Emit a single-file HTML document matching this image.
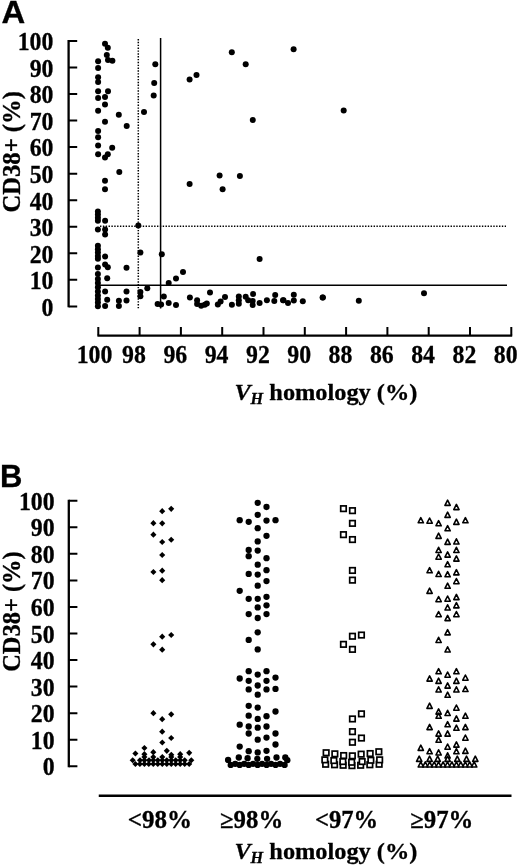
<!DOCTYPE html>
<html><head><meta charset="utf-8"><title>Figure</title>
<style>html,body{margin:0;padding:0;background:#fff}svg{display:block}text{font-family:"Liberation Serif",serif;font-weight:bold;fill:#000;stroke:#000;stroke-width:0.3px}.s{font-family:"Liberation Sans",sans-serif;font-weight:bold}.ax{stroke:#000;fill:none}</style></head><body>
<svg width="520" height="867" viewBox="0 0 520 867">
<rect width="520" height="867" fill="#fff"/>
<text class="s" transform="translate(1.5 23.4) scale(1.06 1)" font-size="31" stroke-width="0.5">A</text>
<path class="ax" stroke-width="2.3" d="M68.6 40.0V307.29999999999995"/>
<path class="ax" stroke-width="2" d="M68.6 40.90H77.19999999999999M68.6 67.45H77.19999999999999M68.6 94.00H77.19999999999999M68.6 120.55H77.19999999999999M68.6 147.10H77.19999999999999M68.6 173.65H77.19999999999999M68.6 200.20H77.19999999999999M68.6 226.75H77.19999999999999M68.6 253.30H77.19999999999999M68.6 279.85H77.19999999999999M68.6 306.40H77.19999999999999"/>
<text transform="translate(53.4 50.2) scale(0.975 1)" font-size="24.4" text-anchor="end">100</text>
<text transform="translate(53.4 76.8) scale(0.975 1)" font-size="24.4" text-anchor="end">90</text>
<text transform="translate(53.4 103.3) scale(0.975 1)" font-size="24.4" text-anchor="end">80</text>
<text transform="translate(53.4 129.9) scale(0.975 1)" font-size="24.4" text-anchor="end">70</text>
<text transform="translate(53.4 156.4) scale(0.975 1)" font-size="24.4" text-anchor="end">60</text>
<text transform="translate(53.4 183.0) scale(0.975 1)" font-size="24.4" text-anchor="end">50</text>
<text transform="translate(53.4 209.5) scale(0.975 1)" font-size="24.4" text-anchor="end">40</text>
<text transform="translate(53.4 236.1) scale(0.975 1)" font-size="24.4" text-anchor="end">30</text>
<text transform="translate(53.4 262.6) scale(0.975 1)" font-size="24.4" text-anchor="end">20</text>
<text transform="translate(53.4 289.2) scale(0.975 1)" font-size="24.4" text-anchor="end">10</text>
<text transform="translate(53.4 315.7) scale(0.975 1)" font-size="24.4" text-anchor="end">0</text>
<text transform="translate(20.3,212.6) rotate(-90) scale(1 1.065)" font-size="24" textLength="121.5" lengthAdjust="spacingAndGlyphs">CD38+ (%)</text>
<path class="ax" stroke-width="2.2" d="M97.39999999999999 335.6H512.2"/>
<path class="ax" stroke-width="2" d="M98.30 335.6V327M139.60 335.6V327M180.90 335.6V327M222.20 335.6V327M263.50 335.6V327M304.80 335.6V327M346.10 335.6V327M387.40 335.6V327M428.70 335.6V327M470.00 335.6V327M511.30 335.6V327"/>
<text transform="translate(94.5 362.6) scale(0.975 1)" font-size="24.4" text-anchor="middle">100</text>
<text transform="translate(134.0 362.6) scale(0.975 1)" font-size="24.4" text-anchor="middle">98</text>
<text transform="translate(175.3 362.6) scale(0.975 1)" font-size="24.4" text-anchor="middle">96</text>
<text transform="translate(216.6 362.6) scale(0.975 1)" font-size="24.4" text-anchor="middle">94</text>
<text transform="translate(257.9 362.6) scale(0.975 1)" font-size="24.4" text-anchor="middle">92</text>
<text transform="translate(299.2 362.6) scale(0.975 1)" font-size="24.4" text-anchor="middle">90</text>
<text transform="translate(340.5 362.6) scale(0.975 1)" font-size="24.4" text-anchor="middle">88</text>
<text transform="translate(381.8 362.6) scale(0.975 1)" font-size="24.4" text-anchor="middle">86</text>
<text transform="translate(423.1 362.6) scale(0.975 1)" font-size="24.4" text-anchor="middle">84</text>
<text transform="translate(464.4 362.6) scale(0.975 1)" font-size="24.4" text-anchor="middle">82</text>
<text transform="translate(505.7 362.6) scale(0.975 1)" font-size="24.4" text-anchor="middle">80</text>
<path class="ax" stroke-width="1.5" d="M160.6 38V308.5"/>
<path class="ax" stroke-width="1.5" d="M98 285.2H507"/>
<path class="ax" stroke-width="1.5" stroke-dasharray="1.4 1.45" d="M138.3 39V309.8"/>
<path class="ax" stroke-width="1.5" stroke-dasharray="1.4 1.45" d="M100 226.3H506"/>
<text x="234.4" y="400.1" font-size="24" textLength="183" lengthAdjust="spacingAndGlyphs"><tspan font-style="italic">V</tspan><tspan font-style="italic" font-size="16" dy="3.5">H</tspan><tspan dy="-3.5"> homology (%)</tspan></text>
<g fill="#000">
<circle cx="105.0" cy="43.8" r="3.0"/>
<circle cx="107.8" cy="47.8" r="3.0"/>
<circle cx="106.8" cy="54.9" r="3.0"/>
<circle cx="108.0" cy="60.0" r="3.0"/>
<circle cx="112.4" cy="60.7" r="3.0"/>
<circle cx="98.1" cy="61.2" r="3.0"/>
<circle cx="98.1" cy="68.1" r="3.0"/>
<circle cx="98.1" cy="77.3" r="3.0"/>
<circle cx="98.1" cy="81.9" r="3.0"/>
<circle cx="98.1" cy="91.2" r="3.0"/>
<circle cx="108.0" cy="91.2" r="3.0"/>
<circle cx="105.0" cy="96.9" r="3.0"/>
<circle cx="98.1" cy="98.1" r="3.0"/>
<circle cx="105.0" cy="104.5" r="3.0"/>
<circle cx="98.1" cy="110.8" r="3.0"/>
<circle cx="118.8" cy="114.7" r="3.0"/>
<circle cx="105.0" cy="121.8" r="3.0"/>
<circle cx="126.7" cy="126.0" r="3.0"/>
<circle cx="98.1" cy="131.1" r="3.0"/>
<circle cx="98.1" cy="137.3" r="3.0"/>
<circle cx="98.1" cy="145.4" r="3.0"/>
<circle cx="112.2" cy="147.7" r="3.0"/>
<circle cx="98.1" cy="154.2" r="3.0"/>
<circle cx="107.8" cy="154.2" r="3.0"/>
<circle cx="105.0" cy="157.6" r="3.0"/>
<circle cx="119.3" cy="171.9" r="3.0"/>
<circle cx="105.0" cy="180.7" r="3.0"/>
<circle cx="105.0" cy="189.2" r="3.0"/>
<circle cx="155.3" cy="64.2" r="3.0"/>
<circle cx="154.2" cy="83.1" r="3.0"/>
<circle cx="153.7" cy="95.5" r="3.0"/>
<circle cx="144.0" cy="111.9" r="3.0"/>
<circle cx="97.9" cy="211.4" r="3.0"/>
<circle cx="97.9" cy="214.5" r="3.0"/>
<circle cx="97.9" cy="217.7" r="3.0"/>
<circle cx="97.9" cy="220.8" r="3.0"/>
<circle cx="97.9" cy="229.5" r="3.0"/>
<circle cx="97.9" cy="245.7" r="3.0"/>
<circle cx="97.9" cy="249.2" r="3.0"/>
<circle cx="97.9" cy="252.6" r="3.0"/>
<circle cx="97.9" cy="256.1" r="3.0"/>
<circle cx="97.9" cy="258.8" r="3.0"/>
<circle cx="97.9" cy="267.4" r="3.0"/>
<circle cx="97.9" cy="274.1" r="3.0"/>
<circle cx="97.9" cy="278.9" r="3.0"/>
<circle cx="97.9" cy="283.1" r="3.0"/>
<circle cx="97.9" cy="287.2" r="3.0"/>
<circle cx="97.9" cy="291.4" r="3.0"/>
<circle cx="97.9" cy="295.5" r="3.0"/>
<circle cx="97.9" cy="299.0" r="3.0"/>
<circle cx="97.9" cy="302.5" r="3.0"/>
<circle cx="97.9" cy="306.3" r="3.0"/>
<circle cx="105.1" cy="220.8" r="3.0"/>
<circle cx="105.1" cy="229.5" r="3.0"/>
<circle cx="105.1" cy="234.6" r="3.0"/>
<circle cx="105.1" cy="256.5" r="3.0"/>
<circle cx="105.1" cy="264.4" r="3.0"/>
<circle cx="107.8" cy="267.2" r="3.0"/>
<circle cx="105.1" cy="291.4" r="3.0"/>
<circle cx="105.1" cy="305.9" r="3.0"/>
<circle cx="107.2" cy="278.2" r="3.0"/>
<circle cx="107.2" cy="299.7" r="3.0"/>
<circle cx="126.5" cy="267.8" r="3.0"/>
<circle cx="126.5" cy="291.4" r="3.0"/>
<circle cx="126.5" cy="300.4" r="3.0"/>
<circle cx="118.9" cy="300.8" r="3.0"/>
<circle cx="118.9" cy="305.9" r="3.0"/>
<circle cx="138.3" cy="225.6" r="3.0"/>
<circle cx="140.4" cy="252.6" r="3.0"/>
<circle cx="140.4" cy="292.1" r="3.0"/>
<circle cx="140.4" cy="296.2" r="3.0"/>
<circle cx="147.3" cy="288.3" r="3.0"/>
<circle cx="231.8" cy="52.2" r="3.0"/>
<circle cx="245.7" cy="64.2" r="3.0"/>
<circle cx="196.5" cy="75.0" r="3.0"/>
<circle cx="189.6" cy="79.6" r="3.0"/>
<circle cx="252.8" cy="120.0" r="3.0"/>
<circle cx="219.6" cy="175.4" r="3.0"/>
<circle cx="239.9" cy="176.1" r="3.0"/>
<circle cx="189.6" cy="183.9" r="3.0"/>
<circle cx="222.6" cy="189.2" r="3.0"/>
<circle cx="293.6" cy="49.2" r="3.0"/>
<circle cx="343.7" cy="110.5" r="3.0"/>
<circle cx="161.8" cy="254.3" r="3.0"/>
<circle cx="183.0" cy="272.1" r="3.0"/>
<circle cx="176.0" cy="278.5" r="3.0"/>
<circle cx="168.7" cy="282.9" r="3.0"/>
<circle cx="210.0" cy="292.6" r="3.0"/>
<circle cx="163.8" cy="296.5" r="3.0"/>
<circle cx="189.9" cy="297.5" r="3.0"/>
<circle cx="197.1" cy="300.2" r="3.0"/>
<circle cx="157.6" cy="304.0" r="3.0"/>
<circle cx="161.1" cy="304.4" r="3.0"/>
<circle cx="168.7" cy="303.0" r="3.0"/>
<circle cx="176.0" cy="305.1" r="3.0"/>
<circle cx="197.1" cy="304.0" r="3.0"/>
<circle cx="201.2" cy="305.8" r="3.0"/>
<circle cx="206.8" cy="303.4" r="3.0"/>
<circle cx="204.7" cy="304.8" r="3.0"/>
<circle cx="217.8" cy="304.4" r="3.0"/>
<circle cx="220.6" cy="301.6" r="3.0"/>
<circle cx="259.6" cy="259.1" r="3.0"/>
<circle cx="225.0" cy="297.0" r="3.0"/>
<circle cx="231.9" cy="304.8" r="3.0"/>
<circle cx="238.8" cy="296.5" r="3.0"/>
<circle cx="238.8" cy="300.2" r="3.0"/>
<circle cx="238.8" cy="303.7" r="3.0"/>
<circle cx="245.7" cy="296.8" r="3.0"/>
<circle cx="248.2" cy="300.2" r="3.0"/>
<circle cx="253.1" cy="294.0" r="3.0"/>
<circle cx="252.7" cy="300.9" r="3.0"/>
<circle cx="252.7" cy="305.1" r="3.0"/>
<circle cx="259.6" cy="303.0" r="3.0"/>
<circle cx="266.9" cy="300.2" r="3.0"/>
<circle cx="275.2" cy="295.1" r="3.0"/>
<circle cx="274.3" cy="300.9" r="3.0"/>
<circle cx="283.5" cy="300.2" r="3.0"/>
<circle cx="283.0" cy="300.2" r="3.0"/>
<circle cx="288.0" cy="303.0" r="3.0"/>
<circle cx="293.8" cy="294.7" r="3.0"/>
<circle cx="293.8" cy="300.6" r="3.0"/>
<circle cx="302.8" cy="301.3" r="3.0"/>
<circle cx="322.9" cy="297.5" r="3.0"/>
<circle cx="322.6" cy="297.4" r="3.0"/>
<circle cx="358.8" cy="300.8" r="3.0"/>
<circle cx="424.0" cy="293.2" r="3.0"/>
</g>
<text class="s" transform="translate(-0.1 486.8) scale(0.99 1)" font-size="31.3" stroke-width="0.5">B</text>
<path class="ax" stroke-width="2.3" d="M68.8 499.85V767.15"/>
<path class="ax" stroke-width="2" d="M68.8 500.75H77.39999999999999M68.8 527.30H77.39999999999999M68.8 553.85H77.39999999999999M68.8 580.40H77.39999999999999M68.8 606.95H77.39999999999999M68.8 633.50H77.39999999999999M68.8 660.05H77.39999999999999M68.8 686.60H77.39999999999999M68.8 713.15H77.39999999999999M68.8 739.70H77.39999999999999M68.8 766.25H77.39999999999999"/>
<text transform="translate(54.6 509.8) scale(0.975 1)" font-size="24.4" text-anchor="end">100</text>
<text transform="translate(54.6 536.3) scale(0.975 1)" font-size="24.4" text-anchor="end">90</text>
<text transform="translate(54.6 562.9) scale(0.975 1)" font-size="24.4" text-anchor="end">80</text>
<text transform="translate(54.6 589.4) scale(0.975 1)" font-size="24.4" text-anchor="end">70</text>
<text transform="translate(54.6 616.0) scale(0.975 1)" font-size="24.4" text-anchor="end">60</text>
<text transform="translate(54.6 642.5) scale(0.975 1)" font-size="24.4" text-anchor="end">50</text>
<text transform="translate(54.6 669.0) scale(0.975 1)" font-size="24.4" text-anchor="end">40</text>
<text transform="translate(54.6 695.6) scale(0.975 1)" font-size="24.4" text-anchor="end">30</text>
<text transform="translate(54.6 722.1) scale(0.975 1)" font-size="24.4" text-anchor="end">20</text>
<text transform="translate(54.6 748.7) scale(0.975 1)" font-size="24.4" text-anchor="end">10</text>
<text transform="translate(54.6 775.2) scale(0.975 1)" font-size="24.4" text-anchor="end">0</text>
<text transform="translate(20.3,671.8) rotate(-90) scale(1 1.065)" font-size="24" textLength="120.5" lengthAdjust="spacingAndGlyphs">CD38+ (%)</text>
<path class="ax" stroke-width="2.4" d="M98.75 795.8H511.5"/>
<text x="127.7" y="828.2" font-size="24.5" textLength="64.3" lengthAdjust="spacingAndGlyphs">&lt;98%</text>
<text x="220.0" y="828.2" font-size="24.5" textLength="63.2" lengthAdjust="spacingAndGlyphs">≥98%</text>
<text x="315.0" y="828.2" font-size="24.5" textLength="63.2" lengthAdjust="spacingAndGlyphs">&lt;97%</text>
<text x="410.2" y="828.2" font-size="24.5" textLength="63.2" lengthAdjust="spacingAndGlyphs">≥97%</text>
<text x="234.4" y="859.3" font-size="24" textLength="183" lengthAdjust="spacingAndGlyphs"><tspan font-style="italic">V</tspan><tspan font-style="italic" font-size="16" dy="3.5">H</tspan><tspan dy="-3.5"> homology (%)</tspan></text>
<g fill="#000">
<path d="M171.2 505.8l3.05 3.05l-3.05 3.05l-3.05 -3.05z"/>
<path d="M162.2 508.1l3.05 3.05l-3.05 3.05l-3.05 -3.05z"/>
<path d="M153.4 520.1l3.05 3.05l-3.05 3.05l-3.05 -3.05z"/>
<path d="M162.2 520.3l3.05 3.05l-3.05 3.05l-3.05 -3.05z"/>
<path d="M153.4 531.6l3.05 3.05l-3.05 3.05l-3.05 -3.05z"/>
<path d="M171.2 536.7l3.05 3.05l-3.05 3.05l-3.05 -3.05z"/>
<path d="M162.2 539.0l3.05 3.05l-3.05 3.05l-3.05 -3.05z"/>
<path d="M162.2 552.0l3.05 3.05l-3.05 3.05l-3.05 -3.05z"/>
<path d="M153.4 569.0l3.05 3.05l-3.05 3.05l-3.05 -3.05z"/>
<path d="M162.2 567.6l3.05 3.05l-3.05 3.05l-3.05 -3.05z"/>
<path d="M162.2 577.1l3.05 3.05l-3.05 3.05l-3.05 -3.05z"/>
<path d="M171.2 632.0l3.05 3.05l-3.05 3.05l-3.05 -3.05z"/>
<path d="M162.2 633.6l3.05 3.05l-3.05 3.05l-3.05 -3.05z"/>
<path d="M153.4 641.3l3.05 3.05l-3.05 3.05l-3.05 -3.05z"/>
<path d="M162.2 646.6l3.05 3.05l-3.05 3.05l-3.05 -3.05z"/>
<path d="M153.4 710.1l3.05 3.05l-3.05 3.05l-3.05 -3.05z"/>
<path d="M171.2 711.3l3.05 3.05l-3.05 3.05l-3.05 -3.05z"/>
<path d="M162.2 716.1l3.05 3.05l-3.05 3.05l-3.05 -3.05z"/>
<path d="M162.2 728.6l3.05 3.05l-3.05 3.05l-3.05 -3.05z"/>
<path d="M171.2 735.0l3.05 3.05l-3.05 3.05l-3.05 -3.05z"/>
<path d="M135.4 761.0l3.05 3.05l-3.05 3.05l-3.05 -3.05z"/>
<path d="M139.9 761.0l3.05 3.05l-3.05 3.05l-3.05 -3.05z"/>
<path d="M144.4 761.0l3.05 3.05l-3.05 3.05l-3.05 -3.05z"/>
<path d="M148.8 761.0l3.05 3.05l-3.05 3.05l-3.05 -3.05z"/>
<path d="M153.3 761.0l3.05 3.05l-3.05 3.05l-3.05 -3.05z"/>
<path d="M157.8 761.0l3.05 3.05l-3.05 3.05l-3.05 -3.05z"/>
<path d="M162.3 761.0l3.05 3.05l-3.05 3.05l-3.05 -3.05z"/>
<path d="M166.8 761.0l3.05 3.05l-3.05 3.05l-3.05 -3.05z"/>
<path d="M171.3 761.0l3.05 3.05l-3.05 3.05l-3.05 -3.05z"/>
<path d="M175.7 761.0l3.05 3.05l-3.05 3.05l-3.05 -3.05z"/>
<path d="M180.2 761.0l3.05 3.05l-3.05 3.05l-3.05 -3.05z"/>
<path d="M184.7 761.0l3.05 3.05l-3.05 3.05l-3.05 -3.05z"/>
<path d="M189.2 761.0l3.05 3.05l-3.05 3.05l-3.05 -3.05z"/>
<path d="M132.7 757.2l3.05 3.05l-3.05 3.05l-3.05 -3.05z"/>
<path d="M140.0 757.2l3.05 3.05l-3.05 3.05l-3.05 -3.05z"/>
<path d="M144.4 757.2l3.05 3.05l-3.05 3.05l-3.05 -3.05z"/>
<path d="M149.0 757.2l3.05 3.05l-3.05 3.05l-3.05 -3.05z"/>
<path d="M153.3 757.2l3.05 3.05l-3.05 3.05l-3.05 -3.05z"/>
<path d="M157.8 757.2l3.05 3.05l-3.05 3.05l-3.05 -3.05z"/>
<path d="M162.3 757.2l3.05 3.05l-3.05 3.05l-3.05 -3.05z"/>
<path d="M166.8 757.2l3.05 3.05l-3.05 3.05l-3.05 -3.05z"/>
<path d="M171.3 757.2l3.05 3.05l-3.05 3.05l-3.05 -3.05z"/>
<path d="M175.7 757.2l3.05 3.05l-3.05 3.05l-3.05 -3.05z"/>
<path d="M180.2 757.2l3.05 3.05l-3.05 3.05l-3.05 -3.05z"/>
<path d="M184.7 757.2l3.05 3.05l-3.05 3.05l-3.05 -3.05z"/>
<path d="M191.3 757.2l3.05 3.05l-3.05 3.05l-3.05 -3.05z"/>
<path d="M144.4 754.0l3.05 3.05l-3.05 3.05l-3.05 -3.05z"/>
<path d="M153.3 754.0l3.05 3.05l-3.05 3.05l-3.05 -3.05z"/>
<path d="M162.3 754.0l3.05 3.05l-3.05 3.05l-3.05 -3.05z"/>
<path d="M171.3 754.0l3.05 3.05l-3.05 3.05l-3.05 -3.05z"/>
<path d="M180.2 754.0l3.05 3.05l-3.05 3.05l-3.05 -3.05z"/>
<path d="M135.4 750.5l3.05 3.05l-3.05 3.05l-3.05 -3.05z"/>
<path d="M144.4 751.1l3.05 3.05l-3.05 3.05l-3.05 -3.05z"/>
<path d="M153.3 749.1l3.05 3.05l-3.05 3.05l-3.05 -3.05z"/>
<path d="M171.3 751.8l3.05 3.05l-3.05 3.05l-3.05 -3.05z"/>
<path d="M180.2 751.1l3.05 3.05l-3.05 3.05l-3.05 -3.05z"/>
<path d="M189.2 749.8l3.05 3.05l-3.05 3.05l-3.05 -3.05z"/>
<path d="M166.8 747.8l3.05 3.05l-3.05 3.05l-3.05 -3.05z"/>
<path d="M144.4 744.9l3.05 3.05l-3.05 3.05l-3.05 -3.05z"/>
<path d="M162.3 739.4l3.05 3.05l-3.05 3.05l-3.05 -3.05z"/>
<circle cx="257.7" cy="502.8" r="3.15"/>
<circle cx="266.5" cy="507.0" r="3.15"/>
<circle cx="257.7" cy="514.8" r="3.15"/>
<circle cx="239.7" cy="520.2" r="3.15"/>
<circle cx="248.7" cy="521.8" r="3.15"/>
<circle cx="266.5" cy="520.6" r="3.15"/>
<circle cx="275.5" cy="520.2" r="3.15"/>
<circle cx="257.7" cy="528.2" r="3.15"/>
<circle cx="266.5" cy="535.8" r="3.15"/>
<circle cx="257.7" cy="541.4" r="3.15"/>
<circle cx="248.7" cy="549.9" r="3.15"/>
<circle cx="257.7" cy="550.6" r="3.15"/>
<circle cx="248.7" cy="556.2" r="3.15"/>
<circle cx="266.5" cy="558.2" r="3.15"/>
<circle cx="257.7" cy="564.7" r="3.15"/>
<circle cx="266.5" cy="570.2" r="3.15"/>
<circle cx="248.7" cy="573.9" r="3.15"/>
<circle cx="257.7" cy="574.6" r="3.15"/>
<circle cx="266.5" cy="581.1" r="3.15"/>
<circle cx="257.7" cy="585.7" r="3.15"/>
<circle cx="239.7" cy="590.8" r="3.15"/>
<circle cx="248.7" cy="598.8" r="3.15"/>
<circle cx="257.7" cy="598.8" r="3.15"/>
<circle cx="266.5" cy="596.8" r="3.15"/>
<circle cx="266.5" cy="605.3" r="3.15"/>
<circle cx="257.7" cy="607.4" r="3.15"/>
<circle cx="248.7" cy="614.1" r="3.15"/>
<circle cx="266.5" cy="614.1" r="3.15"/>
<circle cx="257.7" cy="618.0" r="3.15"/>
<circle cx="257.7" cy="632.3" r="3.15"/>
<circle cx="248.7" cy="639.9" r="3.15"/>
<circle cx="257.7" cy="649.4" r="3.15"/>
<circle cx="248.7" cy="671.2" r="3.15"/>
<circle cx="266.5" cy="671.2" r="3.15"/>
<circle cx="257.7" cy="674.6" r="3.15"/>
<circle cx="239.7" cy="678.5" r="3.15"/>
<circle cx="275.5" cy="677.6" r="3.15"/>
<circle cx="248.7" cy="680.8" r="3.15"/>
<circle cx="266.5" cy="680.8" r="3.15"/>
<circle cx="257.7" cy="685.5" r="3.15"/>
<circle cx="248.7" cy="689.4" r="3.15"/>
<circle cx="266.5" cy="689.4" r="3.15"/>
<circle cx="275.5" cy="688.9" r="3.15"/>
<circle cx="257.7" cy="694.7" r="3.15"/>
<circle cx="248.7" cy="705.8" r="3.15"/>
<circle cx="257.7" cy="707.6" r="3.15"/>
<circle cx="275.5" cy="711.5" r="3.15"/>
<circle cx="248.7" cy="715.7" r="3.15"/>
<circle cx="266.5" cy="716.2" r="3.15"/>
<circle cx="257.7" cy="718.9" r="3.15"/>
<circle cx="239.7" cy="724.7" r="3.15"/>
<circle cx="248.7" cy="726.5" r="3.15"/>
<circle cx="257.7" cy="727.7" r="3.15"/>
<circle cx="266.5" cy="726.5" r="3.15"/>
<circle cx="248.7" cy="733.5" r="3.15"/>
<circle cx="275.5" cy="733.5" r="3.15"/>
<circle cx="266.5" cy="737.6" r="3.15"/>
<circle cx="257.7" cy="739.7" r="3.15"/>
<circle cx="275.5" cy="744.5" r="3.15"/>
<circle cx="239.7" cy="746.6" r="3.15"/>
<circle cx="248.7" cy="751.2" r="3.15"/>
<circle cx="266.5" cy="750.8" r="3.15"/>
<circle cx="257.7" cy="752.4" r="3.15"/>
<circle cx="230.7" cy="764.9" r="3.15"/>
<circle cx="235.2" cy="763.8" r="3.15"/>
<circle cx="239.7" cy="764.9" r="3.15"/>
<circle cx="244.2" cy="763.8" r="3.15"/>
<circle cx="248.7" cy="764.9" r="3.15"/>
<circle cx="253.1" cy="763.8" r="3.15"/>
<circle cx="257.6" cy="764.9" r="3.15"/>
<circle cx="262.1" cy="763.8" r="3.15"/>
<circle cx="266.6" cy="764.9" r="3.15"/>
<circle cx="271.1" cy="763.8" r="3.15"/>
<circle cx="275.6" cy="764.9" r="3.15"/>
<circle cx="280.1" cy="763.8" r="3.15"/>
<circle cx="284.6" cy="764.9" r="3.15"/>
<circle cx="228.1" cy="759.9" r="3.15"/>
<circle cx="238.8" cy="757.5" r="3.15"/>
<circle cx="247.6" cy="758.2" r="3.15"/>
<circle cx="257.3" cy="758.8" r="3.15"/>
<circle cx="267.1" cy="758.8" r="3.15"/>
<circle cx="276.5" cy="757.5" r="3.15"/>
<circle cx="285.3" cy="757.5" r="3.15"/>
<circle cx="287.3" cy="760.2" r="3.15"/>
</g><g fill="#fff" stroke="#000" stroke-width="1.7">
<rect x="349.2" y="762.9" width="5.5" height="5.5"/>
<rect x="340.4" y="762.5" width="5.5" height="5.5"/>
<rect x="357.9" y="762.5" width="5.5" height="5.5"/>
<rect x="331.8" y="762.0" width="5.5" height="5.5"/>
<rect x="367.1" y="762.0" width="5.5" height="5.5"/>
<rect x="322.9" y="761.5" width="5.5" height="5.5"/>
<rect x="376.4" y="761.5" width="5.5" height="5.5"/>
<rect x="348.9" y="759.5" width="5.5" height="5.5"/>
<rect x="340.1" y="758.8" width="5.5" height="5.5"/>
<rect x="359.4" y="758.8" width="5.5" height="5.5"/>
<rect x="331.1" y="757.8" width="5.5" height="5.5"/>
<rect x="368.1" y="757.5" width="5.5" height="5.5"/>
<rect x="322.1" y="757.1" width="5.5" height="5.5"/>
<rect x="376.9" y="757.1" width="5.5" height="5.5"/>
<rect x="349.6" y="753.1" width="5.5" height="5.5"/>
<rect x="340.9" y="752.8" width="5.5" height="5.5"/>
<rect x="358.4" y="751.4" width="5.5" height="5.5"/>
<rect x="332.1" y="751.1" width="5.5" height="5.5"/>
<rect x="367.4" y="750.8" width="5.5" height="5.5"/>
<rect x="323.4" y="750.0" width="5.5" height="5.5"/>
<rect x="376.1" y="749.0" width="5.5" height="5.5"/>
<rect x="349.7" y="739.5" width="5.5" height="5.5"/>
<rect x="358.7" y="735.3" width="5.5" height="5.5"/>
<rect x="349.7" y="728.9" width="5.5" height="5.5"/>
<rect x="349.7" y="716.2" width="5.5" height="5.5"/>
<rect x="358.7" y="711.1" width="5.5" height="5.5"/>
<rect x="349.7" y="646.6" width="5.5" height="5.5"/>
<rect x="340.7" y="641.6" width="5.5" height="5.5"/>
<rect x="349.7" y="633.5" width="5.5" height="5.5"/>
<rect x="358.7" y="632.3" width="5.5" height="5.5"/>
<rect x="349.7" y="577.4" width="5.5" height="5.5"/>
<rect x="349.7" y="567.7" width="5.5" height="5.5"/>
<rect x="349.7" y="536.8" width="5.5" height="5.5"/>
<rect x="340.7" y="531.9" width="5.5" height="5.5"/>
<rect x="349.7" y="520.6" width="5.5" height="5.5"/>
<rect x="349.7" y="507.9" width="5.5" height="5.5"/>
<rect x="340.7" y="505.9" width="5.5" height="5.5"/>
</g><g fill="#fff" stroke="#000" stroke-width="1.6" stroke-linejoin="round">
<path d="M447.6 500.2l2.65 5.2h-5.3z"/>
<path d="M456.4 504.4l2.65 5.2h-5.3z"/>
<path d="M447.6 512.2l2.65 5.2h-5.3z"/>
<path d="M420.8 517.6l2.65 5.2h-5.3z"/>
<path d="M429.6 518.0l2.65 5.2h-5.3z"/>
<path d="M438.6 520.6l2.65 5.2h-5.3z"/>
<path d="M456.4 519.2l2.65 5.2h-5.3z"/>
<path d="M465.4 517.6l2.65 5.2h-5.3z"/>
<path d="M447.6 525.6l2.65 5.2h-5.3z"/>
<path d="M438.6 533.2l2.65 5.2h-5.3z"/>
<path d="M447.6 539.2l2.65 5.2h-5.3z"/>
<path d="M456.4 538.8l2.65 5.2h-5.3z"/>
<path d="M438.6 547.3l2.65 5.2h-5.3z"/>
<path d="M456.4 547.3l2.65 5.2h-5.3z"/>
<path d="M447.6 551.9l2.65 5.2h-5.3z"/>
<path d="M438.6 554.0l2.65 5.2h-5.3z"/>
<path d="M456.4 555.9l2.65 5.2h-5.3z"/>
<path d="M447.6 561.6l2.65 5.2h-5.3z"/>
<path d="M429.6 567.6l2.65 5.2h-5.3z"/>
<path d="M438.6 571.3l2.65 5.2h-5.3z"/>
<path d="M447.6 571.6l2.65 5.2h-5.3z"/>
<path d="M456.4 569.7l2.65 5.2h-5.3z"/>
<path d="M456.4 578.5l2.65 5.2h-5.3z"/>
<path d="M447.6 583.1l2.65 5.2h-5.3z"/>
<path d="M429.6 588.2l2.65 5.2h-5.3z"/>
<path d="M438.6 596.5l2.65 5.2h-5.3z"/>
<path d="M447.6 596.0l2.65 5.2h-5.3z"/>
<path d="M456.4 594.4l2.65 5.2h-5.3z"/>
<path d="M456.4 602.7l2.65 5.2h-5.3z"/>
<path d="M447.6 604.8l2.65 5.2h-5.3z"/>
<path d="M438.6 611.5l2.65 5.2h-5.3z"/>
<path d="M456.4 611.5l2.65 5.2h-5.3z"/>
<path d="M447.6 615.4l2.65 5.2h-5.3z"/>
<path d="M447.6 629.7l2.65 5.2h-5.3z"/>
<path d="M438.6 637.3l2.65 5.2h-5.3z"/>
<path d="M447.6 646.8l2.65 5.2h-5.3z"/>
<path d="M438.6 668.6l2.65 5.2h-5.3z"/>
<path d="M456.4 668.6l2.65 5.2h-5.3z"/>
<path d="M447.6 672.0l2.65 5.2h-5.3z"/>
<path d="M429.6 675.9l2.65 5.2h-5.3z"/>
<path d="M465.4 675.0l2.65 5.2h-5.3z"/>
<path d="M438.6 678.2l2.65 5.2h-5.3z"/>
<path d="M456.4 678.2l2.65 5.2h-5.3z"/>
<path d="M447.6 682.9l2.65 5.2h-5.3z"/>
<path d="M438.6 686.8l2.65 5.2h-5.3z"/>
<path d="M456.4 686.8l2.65 5.2h-5.3z"/>
<path d="M465.4 686.3l2.65 5.2h-5.3z"/>
<path d="M447.6 692.1l2.65 5.2h-5.3z"/>
<path d="M429.6 703.2l2.65 5.2h-5.3z"/>
<path d="M456.4 705.0l2.65 5.2h-5.3z"/>
<path d="M438.6 708.9l2.65 5.2h-5.3z"/>
<path d="M447.6 710.3l2.65 5.2h-5.3z"/>
<path d="M438.6 713.1l2.65 5.2h-5.3z"/>
<path d="M465.4 713.1l2.65 5.2h-5.3z"/>
<path d="M456.4 715.9l2.65 5.2h-5.3z"/>
<path d="M447.6 721.6l2.65 5.2h-5.3z"/>
<path d="M429.6 724.4l2.65 5.2h-5.3z"/>
<path d="M456.4 725.1l2.65 5.2h-5.3z"/>
<path d="M465.4 724.4l2.65 5.2h-5.3z"/>
<path d="M438.6 730.9l2.65 5.2h-5.3z"/>
<path d="M447.6 730.9l2.65 5.2h-5.3z"/>
<path d="M465.4 735.0l2.65 5.2h-5.3z"/>
<path d="M438.6 737.1l2.65 5.2h-5.3z"/>
<path d="M456.4 741.9l2.65 5.2h-5.3z"/>
<path d="M447.6 744.0l2.65 5.2h-5.3z"/>
<path d="M420.8 745.2l2.65 5.2h-5.3z"/>
<path d="M429.6 748.6l2.65 5.2h-5.3z"/>
<path d="M438.6 749.8l2.65 5.2h-5.3z"/>
<path d="M456.4 748.6l2.65 5.2h-5.3z"/>
<path d="M465.4 748.2l2.65 5.2h-5.3z"/>
<path d="M447.6 752.8l2.65 5.2h-5.3z"/>
<path d="M419.2 756.2l2.65 5.2h-5.3z"/>
<path d="M429.6 756.2l2.65 5.2h-5.3z"/>
<path d="M437.7 756.2l2.65 5.2h-5.3z"/>
<path d="M447.6 756.2l2.65 5.2h-5.3z"/>
<path d="M457.3 756.2l2.65 5.2h-5.3z"/>
<path d="M466.5 756.2l2.65 5.2h-5.3z"/>
<path d="M475.3 756.2l2.65 5.2h-5.3z"/>
<path d="M420.8 761.8l2.65 5.2h-5.3z"/>
<path d="M425.3 761.8l2.65 5.2h-5.3z"/>
<path d="M429.7 761.8l2.65 5.2h-5.3z"/>
<path d="M434.2 761.8l2.65 5.2h-5.3z"/>
<path d="M438.6 761.8l2.65 5.2h-5.3z"/>
<path d="M443.1 761.8l2.65 5.2h-5.3z"/>
<path d="M447.5 761.8l2.65 5.2h-5.3z"/>
<path d="M451.9 761.8l2.65 5.2h-5.3z"/>
<path d="M456.4 761.8l2.65 5.2h-5.3z"/>
<path d="M460.8 761.8l2.65 5.2h-5.3z"/>
<path d="M465.3 761.8l2.65 5.2h-5.3z"/>
<path d="M469.7 761.8l2.65 5.2h-5.3z"/>
<path d="M474.2 761.8l2.65 5.2h-5.3z"/>
</g>
</svg></body></html>
